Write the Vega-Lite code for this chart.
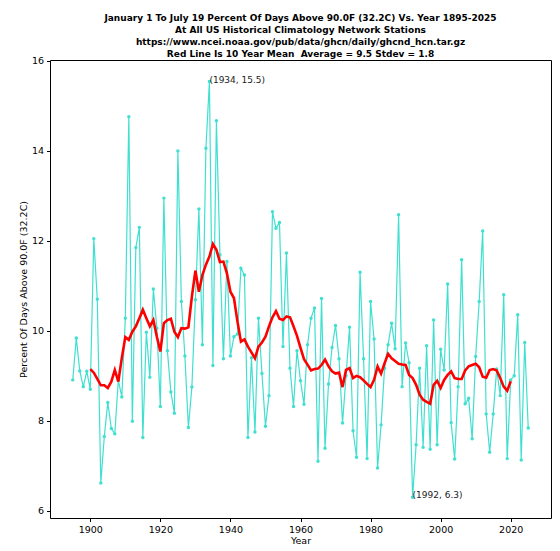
{
  "$schema": "https://vega.github.io/schema/vega-lite/v6.json",
  "autosize": {"type": "none"},
  "width": 501,
  "height": 458,
  "padding": {"left": 50, "top": 60, "right": 9, "bottom": 33},
  "background": "white",
  "title": {
    "text": [
      "January 1 To July 19 Percent Of Days Above 90.0F (32.2C) Vs. Year 1895-2025",
      "At All US Historical Climatology Network Stations",
      "https://www.ncei.noaa.gov/pub/data/ghcn/daily/ghcnd_hcn.tar.gz",
      "Red Line Is 10 Year Mean\u00a0 Average = 9.5 Stdev = 1.8"
    ],
    "font": "DejaVu Sans",
    "fontSize": 9,
    "fontWeight": "bold",
    "lineHeight": 12,
    "color": "black",
    "anchor": "middle",
    "offset": -3
  },
  "datasets": {
    "yearly": [
      {"year": 1895, "pct": 8.91}, {"year": 1896, "pct": 9.84}, {"year": 1897, "pct": 9.11},
      {"year": 1898, "pct": 8.76}, {"year": 1899, "pct": 9.10}, {"year": 1900, "pct": 8.70},
      {"year": 1901, "pct": 12.05}, {"year": 1902, "pct": 10.70}, {"year": 1903, "pct": 6.62},
      {"year": 1904, "pct": 7.65}, {"year": 1905, "pct": 8.41}, {"year": 1906, "pct": 7.83},
      {"year": 1907, "pct": 7.71}, {"year": 1908, "pct": 8.90}, {"year": 1909, "pct": 8.53},
      {"year": 1910, "pct": 10.28}, {"year": 1911, "pct": 14.76}, {"year": 1912, "pct": 7.99},
      {"year": 1913, "pct": 11.85}, {"year": 1914, "pct": 12.30}, {"year": 1915, "pct": 7.63},
      {"year": 1916, "pct": 9.97}, {"year": 1917, "pct": 8.97}, {"year": 1918, "pct": 10.93},
      {"year": 1919, "pct": 10.06}, {"year": 1920, "pct": 8.32}, {"year": 1921, "pct": 12.95},
      {"year": 1922, "pct": 9.56}, {"year": 1923, "pct": 8.64}, {"year": 1924, "pct": 8.17},
      {"year": 1925, "pct": 14.00}, {"year": 1926, "pct": 10.65}, {"year": 1927, "pct": 9.44},
      {"year": 1928, "pct": 7.85}, {"year": 1929, "pct": 8.75}, {"year": 1930, "pct": 10.69},
      {"year": 1931, "pct": 12.71}, {"year": 1932, "pct": 9.69}, {"year": 1933, "pct": 14.06},
      {"year": 1934, "pct": 15.54}, {"year": 1935, "pct": 9.23}, {"year": 1936, "pct": 14.67},
      {"year": 1937, "pct": 11.69}, {"year": 1938, "pct": 9.38}, {"year": 1939, "pct": 11.54},
      {"year": 1940, "pct": 9.44}, {"year": 1941, "pct": 9.87}, {"year": 1942, "pct": 9.93},
      {"year": 1943, "pct": 11.39}, {"year": 1944, "pct": 11.24}, {"year": 1945, "pct": 7.63},
      {"year": 1946, "pct": 9.40}, {"year": 1947, "pct": 7.75}, {"year": 1948, "pct": 10.28},
      {"year": 1949, "pct": 9.05}, {"year": 1950, "pct": 7.88}, {"year": 1951, "pct": 8.56},
      {"year": 1952, "pct": 12.65}, {"year": 1953, "pct": 12.28}, {"year": 1954, "pct": 12.41},
      {"year": 1955, "pct": 9.65}, {"year": 1956, "pct": 11.73}, {"year": 1957, "pct": 9.17},
      {"year": 1958, "pct": 8.32}, {"year": 1959, "pct": 9.56}, {"year": 1960, "pct": 8.89},
      {"year": 1961, "pct": 8.37}, {"year": 1962, "pct": 9.69}, {"year": 1963, "pct": 10.28},
      {"year": 1964, "pct": 10.51}, {"year": 1965, "pct": 7.10}, {"year": 1966, "pct": 10.72},
      {"year": 1967, "pct": 7.39}, {"year": 1968, "pct": 8.82}, {"year": 1969, "pct": 9.63},
      {"year": 1970, "pct": 10.12}, {"year": 1971, "pct": 9.38}, {"year": 1972, "pct": 7.95},
      {"year": 1973, "pct": 9.00}, {"year": 1974, "pct": 10.08}, {"year": 1975, "pct": 7.78},
      {"year": 1976, "pct": 7.19}, {"year": 1977, "pct": 11.30}, {"year": 1978, "pct": 9.38},
      {"year": 1979, "pct": 7.16}, {"year": 1980, "pct": 10.65}, {"year": 1981, "pct": 9.82},
      {"year": 1982, "pct": 6.95}, {"year": 1983, "pct": 7.91}, {"year": 1984, "pct": 9.17},
      {"year": 1985, "pct": 9.69}, {"year": 1986, "pct": 10.17}, {"year": 1987, "pct": 9.60},
      {"year": 1988, "pct": 12.58}, {"year": 1989, "pct": 8.76}, {"year": 1990, "pct": 9.73},
      {"year": 1991, "pct": 9.29}, {"year": 1992, "pct": 6.30}, {"year": 1993, "pct": 7.47},
      {"year": 1994, "pct": 9.17}, {"year": 1995, "pct": 7.41}, {"year": 1996, "pct": 9.67},
      {"year": 1997, "pct": 7.37}, {"year": 1998, "pct": 10.24}, {"year": 1999, "pct": 7.47},
      {"year": 2000, "pct": 9.59}, {"year": 2001, "pct": 9.13}, {"year": 2002, "pct": 11.04},
      {"year": 2003, "pct": 7.96}, {"year": 2004, "pct": 7.15}, {"year": 2005, "pct": 8.76},
      {"year": 2006, "pct": 11.58}, {"year": 2007, "pct": 8.38}, {"year": 2008, "pct": 8.50},
      {"year": 2009, "pct": 7.60}, {"year": 2010, "pct": 9.43}, {"year": 2011, "pct": 10.65},
      {"year": 2012, "pct": 12.22}, {"year": 2013, "pct": 8.15}, {"year": 2014, "pct": 7.30},
      {"year": 2015, "pct": 8.15}, {"year": 2016, "pct": 9.15}, {"year": 2017, "pct": 8.56},
      {"year": 2018, "pct": 10.80}, {"year": 2019, "pct": 7.16}, {"year": 2020, "pct": 8.91},
      {"year": 2021, "pct": 9.00}, {"year": 2022, "pct": 10.36}, {"year": 2023, "pct": 7.13},
      {"year": 2024, "pct": 9.74}, {"year": 2025, "pct": 7.84}
    ],
    "mean10": [
      {"year": 1900, "mean": 9.15}, {"year": 1901, "mean": 9.07}, {"year": 1902, "mean": 8.93},
      {"year": 1903, "mean": 8.79}, {"year": 1904, "mean": 8.79}, {"year": 1905, "mean": 8.73},
      {"year": 1906, "mean": 8.87}, {"year": 1907, "mean": 9.13}, {"year": 1908, "mean": 8.87},
      {"year": 1909, "mean": 9.40}, {"year": 1910, "mean": 9.86}, {"year": 1911, "mean": 9.80},
      {"year": 1912, "mean": 9.98}, {"year": 1913, "mean": 10.10}, {"year": 1914, "mean": 10.28},
      {"year": 1915, "mean": 10.47}, {"year": 1916, "mean": 10.28}, {"year": 1917, "mean": 10.10},
      {"year": 1918, "mean": 10.24}, {"year": 1919, "mean": 9.87}, {"year": 1920, "mean": 9.54},
      {"year": 1921, "mean": 10.17}, {"year": 1922, "mean": 10.24}, {"year": 1923, "mean": 10.27},
      {"year": 1924, "mean": 9.98}, {"year": 1925, "mean": 9.86}, {"year": 1926, "mean": 10.06},
      {"year": 1927, "mean": 10.05}, {"year": 1928, "mean": 10.08}, {"year": 1929, "mean": 10.76},
      {"year": 1930, "mean": 11.34}, {"year": 1931, "mean": 10.87}, {"year": 1932, "mean": 11.24},
      {"year": 1933, "mean": 11.47}, {"year": 1934, "mean": 11.65}, {"year": 1935, "mean": 11.93},
      {"year": 1936, "mean": 11.80}, {"year": 1937, "mean": 11.53}, {"year": 1938, "mean": 11.54},
      {"year": 1939, "mean": 11.28}, {"year": 1940, "mean": 10.87}, {"year": 1941, "mean": 10.73},
      {"year": 1942, "mean": 10.21}, {"year": 1943, "mean": 9.76}, {"year": 1944, "mean": 9.81},
      {"year": 1945, "mean": 9.65}, {"year": 1946, "mean": 9.52}, {"year": 1947, "mean": 9.39},
      {"year": 1948, "mean": 9.65}, {"year": 1949, "mean": 9.74}, {"year": 1950, "mean": 9.87},
      {"year": 1951, "mean": 10.10}, {"year": 1952, "mean": 10.30}, {"year": 1953, "mean": 10.44},
      {"year": 1954, "mean": 10.27}, {"year": 1955, "mean": 10.24}, {"year": 1956, "mean": 10.32},
      {"year": 1957, "mean": 10.30}, {"year": 1958, "mean": 10.10}, {"year": 1959, "mean": 9.89},
      {"year": 1960, "mean": 9.62}, {"year": 1961, "mean": 9.37}, {"year": 1962, "mean": 9.25},
      {"year": 1963, "mean": 9.12}, {"year": 1964, "mean": 9.15}, {"year": 1965, "mean": 9.16},
      {"year": 1966, "mean": 9.24}, {"year": 1967, "mean": 9.36}, {"year": 1968, "mean": 9.21},
      {"year": 1969, "mean": 9.10}, {"year": 1970, "mean": 9.05}, {"year": 1971, "mean": 9.07},
      {"year": 1972, "mean": 8.75}, {"year": 1973, "mean": 9.13}, {"year": 1974, "mean": 9.17},
      {"year": 1975, "mean": 8.95}, {"year": 1976, "mean": 9.00}, {"year": 1977, "mean": 8.97},
      {"year": 1978, "mean": 8.90}, {"year": 1979, "mean": 8.82}, {"year": 1980, "mean": 8.75},
      {"year": 1981, "mean": 8.91}, {"year": 1982, "mean": 9.21}, {"year": 1983, "mean": 9.05},
      {"year": 1984, "mean": 9.28}, {"year": 1985, "mean": 9.49}, {"year": 1986, "mean": 9.39},
      {"year": 1987, "mean": 9.33}, {"year": 1988, "mean": 9.27}, {"year": 1989, "mean": 9.25},
      {"year": 1990, "mean": 9.24}, {"year": 1991, "mean": 9.02}, {"year": 1992, "mean": 8.95},
      {"year": 1993, "mean": 8.80}, {"year": 1994, "mean": 8.58}, {"year": 1995, "mean": 8.47},
      {"year": 1996, "mean": 8.42}, {"year": 1997, "mean": 8.38}, {"year": 1998, "mean": 8.80},
      {"year": 1999, "mean": 8.89}, {"year": 2000, "mean": 8.73}, {"year": 2001, "mean": 8.91},
      {"year": 2002, "mean": 9.02}, {"year": 2003, "mean": 9.10}, {"year": 2004, "mean": 8.95},
      {"year": 2005, "mean": 8.93}, {"year": 2006, "mean": 8.93}, {"year": 2007, "mean": 9.12},
      {"year": 2008, "mean": 9.21}, {"year": 2009, "mean": 9.24}, {"year": 2010, "mean": 9.27},
      {"year": 2011, "mean": 9.19}, {"year": 2012, "mean": 8.98}, {"year": 2013, "mean": 8.96},
      {"year": 2014, "mean": 9.13}, {"year": 2015, "mean": 9.15}, {"year": 2016, "mean": 9.12},
      {"year": 2017, "mean": 8.95}, {"year": 2018, "mean": 8.76}, {"year": 2019, "mean": 8.67},
      {"year": 2020, "mean": 8.88}
    ],
    "notes": [
      {"year": 1934, "pct": 15.54, "label": "(1934, 15.5)"},
      {"year": 1992, "pct": 6.30, "label": "(1992, 6.3)"}
    ]
  },
  "layer": [
    {
      "data": {"name": "yearly"},
      "mark": {
        "type": "line",
        "color": "#40E0D0",
        "strokeWidth": 1.2,
        "point": {"filled": true, "size": 12, "color": "#40E0D0"}
      },
      "encoding": {
        "x": {
          "field": "year", "type": "quantitative", "title": "Year",
          "scale": {"domain": [1888.5, 2031.5], "nice": false, "zero": false},
          "axis": {"values": [1900, 1920, 1940, 1960, 1980, 2000, 2020], "format": "d"}
        },
        "y": {
          "field": "pct", "type": "quantitative", "title": "Percent Of Days Above 90.0F (32.2C)",
          "scale": {"domain": [5.84, 16.02], "nice": false, "zero": false},
          "axis": {"values": [6, 8, 10, 12, 14, 16]}
        }
      }
    },
    {
      "data": {"name": "mean10"},
      "mark": {"type": "line", "color": "red", "strokeWidth": 2.6},
      "encoding": {
        "x": {"field": "year", "type": "quantitative"},
        "y": {"field": "mean", "type": "quantitative"}
      }
    },
    {
      "data": {"name": "notes"},
      "mark": {
        "type": "text", "align": "left", "baseline": "alphabetic",
        "font": "DejaVu Sans", "fontSize": 9, "color": "#222222", "dy": 1
      },
      "encoding": {
        "x": {"field": "year", "type": "quantitative"},
        "y": {"field": "pct", "type": "quantitative"},
        "text": {"field": "label"}
      }
    }
  ],
  "config": {
    "view": {"stroke": "black", "strokeWidth": 1},
    "axis": {
      "grid": false,
      "domain": false,
      "tickColor": "black",
      "tickSize": 3.5,
      "labelColor": "black",
      "labelFont": "DejaVu Sans",
      "labelFontSize": 9.5,
      "labelPadding": 3,
      "titleColor": "black",
      "titleFont": "DejaVu Sans",
      "titleFontSize": 9.5,
      "titleFontWeight": "normal"
    },
    "axisX": {"titlePadding": 1},
    "axisY": {"titlePadding": 3}
  }
}
